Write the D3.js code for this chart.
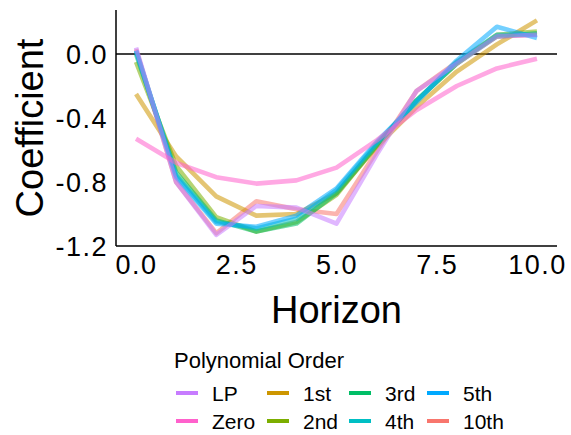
<!DOCTYPE html>
<html>
<head>
<meta charset="utf-8">
<script src="https://cdn.jsdelivr.net/npm/d3@7"></script>
<style>
  body { margin: 0; background: #fff; }
  text { font-family: "Liberation Sans", Arial, sans-serif; fill: #000; }
</style>
</head>
<body>
<div id="chart"></div>
<script>
// horizons 0..10
var horizon = [0, 1, 2, 3, 4, 5, 6, 7, 8, 9, 10];

// coefficient estimates by polynomial order
var lp    = [0.04, -0.80, -1.13, -0.95, -0.96, -1.06, -0.63, -0.23, -0.06, 0.11, 0.12];
var zero  = [-0.53, -0.68, -0.77, -0.81, -0.79, -0.71, -0.54, -0.35, -0.20, -0.09, -0.03];
var first = [-0.25, -0.64, -0.89, -1.01, -1.00, -0.87, -0.58, -0.33, -0.11, 0.06, 0.21];
var second = [-0.05, -0.70, -1.02, -1.11, -1.05, -0.88, -0.57, -0.29, -0.06, 0.12, 0.14];
var third = [0.00, -0.74, -1.04, -1.11, -1.06, -0.87, -0.57, -0.29, -0.06, 0.11, 0.13];
var fourth = [0.02, -0.76, -1.05, -1.09, -1.03, -0.85, -0.56, -0.29, -0.05, 0.12, 0.12];
var fifth = [0.02, -0.77, -1.06, -1.08, -1.01, -0.84, -0.55, -0.30, -0.04, 0.17, 0.10];
var tenth = [0.03, -0.80, -1.12, -0.92, -0.97, -1.00, -0.61, -0.23, -0.05, 0.11, 0.12];

var xTicks = [0, 2.5, 5, 7.5, 10];
var yTicks = [0, -0.4, -0.8, -1.2];

// legend order (two rows, filled by column)
var legendOrder = ["LP", "Zero", "1st", "2nd", "3rd", "4th", "5th", "10th"];
// drawing order follows the factor levels
var drawOrder = ["10th", "1st", "2nd", "3rd", "4th", "5th", "LP", "Zero"];

var seriesValues = {
  "LP": lp, "Zero": zero, "1st": first, "2nd": second, "3rd": third,
  "4th": fourth, "5th": fifth, "10th": tenth
};

var color = d3.scaleOrdinal()
  .domain(drawOrder)
  .range(["#F8766D", "#CD9600", "#7CAE00", "#00BE67", "#00BFC4", "#00A9FF", "#C77CFF", "#FF61CC"]);

var W = 571, H = 435;
var pLeft = 116, pRight = 557, pTop = 10, pBottom = 246;

var svg = d3.select("#chart").append("svg")
  .attr("width", W)
  .attr("height", H);

var x = d3.scaleLinear().domain([-0.5, 10.5]).range([pLeft, pRight]);
var y = d3.scaleLinear().domain([-1.2, 0.275]).range([pBottom, pTop]);

// zero reference line
svg.append("line")
  .attr("x1", pLeft).attr("x2", pRight)
  .attr("y1", y(0)).attr("y2", y(0))
  .attr("stroke", "#000")
  .attr("stroke-width", 1.5);

// the series
var line = d3.line()
  .x(function(d, i) { return x(horizon[i]); })
  .y(function(d) { return y(d); });

svg.selectAll(".series")
  .data(drawOrder)
  .enter().append("path")
  .attr("class", "series")
  .attr("d", function(k) { return line(seriesValues[k]); })
  .attr("fill", "none")
  .attr("stroke", function(k) { return color(k); })
  .attr("stroke-opacity", 0.55)
  .attr("stroke-width", 4.6)
  .attr("stroke-linejoin", "round")
  .attr("stroke-linecap", "butt");

// axes: lines only, no tick marks; plain hyphen for the minus sign
var fmt = function(d) { return d.toFixed(1); };
var xAxis = svg.append("g")
  .attr("transform", "translate(0," + pBottom + ")")
  .call(d3.axisBottom(x).tickValues(xTicks).tickSize(0).tickPadding(9).tickFormat(fmt));
var yAxis = svg.append("g")
  .attr("transform", "translate(" + pLeft + ",0)")
  .call(d3.axisLeft(y).tickValues(yTicks).tickSize(0).tickPadding(8).tickFormat(fmt));

[xAxis, yAxis].forEach(function(a) {
  a.select(".domain").attr("stroke", "#000").attr("stroke-width", 1.5);
  a.selectAll("text")
    .style("font-family", "'Liberation Sans', Arial, sans-serif")
    .style("font-size", "27px")
    .style("letter-spacing", "1.5px")
    .attr("fill", "#000");
});
yAxis.selectAll("text").attr("dy", "0.36em");
xAxis.selectAll("text").attr("dy", "0.72em");
// axis lines span the whole panel
yAxis.select(".domain").attr("d", "M0," + pTop + "V" + pBottom);
xAxis.select(".domain").attr("d", "M" + pLeft + ",0H" + pRight);

// axis titles
svg.append("text")
  .attr("x", (pLeft + pRight) / 2)
  .attr("y", 323)
  .attr("text-anchor", "middle")
  .style("font-size", "38px")
  .text("Horizon");

svg.append("text")
  .attr("transform", "translate(43," + ((pTop + pBottom) / 2) + ") rotate(-90)")
  .attr("text-anchor", "middle")
  .style("font-size", "38px")
  .text("Coefficient");

// legend
var legend = svg.append("g");
legend.append("text")
  .attr("x", 174)
  .attr("y", 368)
  .style("font-size", "22px")
  .text("Polynomial Order");

var colX = [176, 267, 349, 427];
var rowY = [393, 421];

var items = legend.selectAll(".legend")
  .data(legendOrder)
  .enter().append("g")
  .attr("class", "legend")
  .attr("transform", function(d, i) {
    return "translate(" + colX[Math.floor(i / 2)] + "," + rowY[i % 2] + ")";
  });

items.append("line")
  .attr("x1", 0).attr("x2", 22)
  .attr("y1", 0).attr("y2", 0)
  .attr("stroke", function(d) { return color(d); })
  .attr("stroke-width", 4);

items.append("text")
  .attr("x", 36)
  .attr("y", 8)
  .style("font-size", "21px")
  .text(function(d) { return d; });
</script>
</body>
</html>
